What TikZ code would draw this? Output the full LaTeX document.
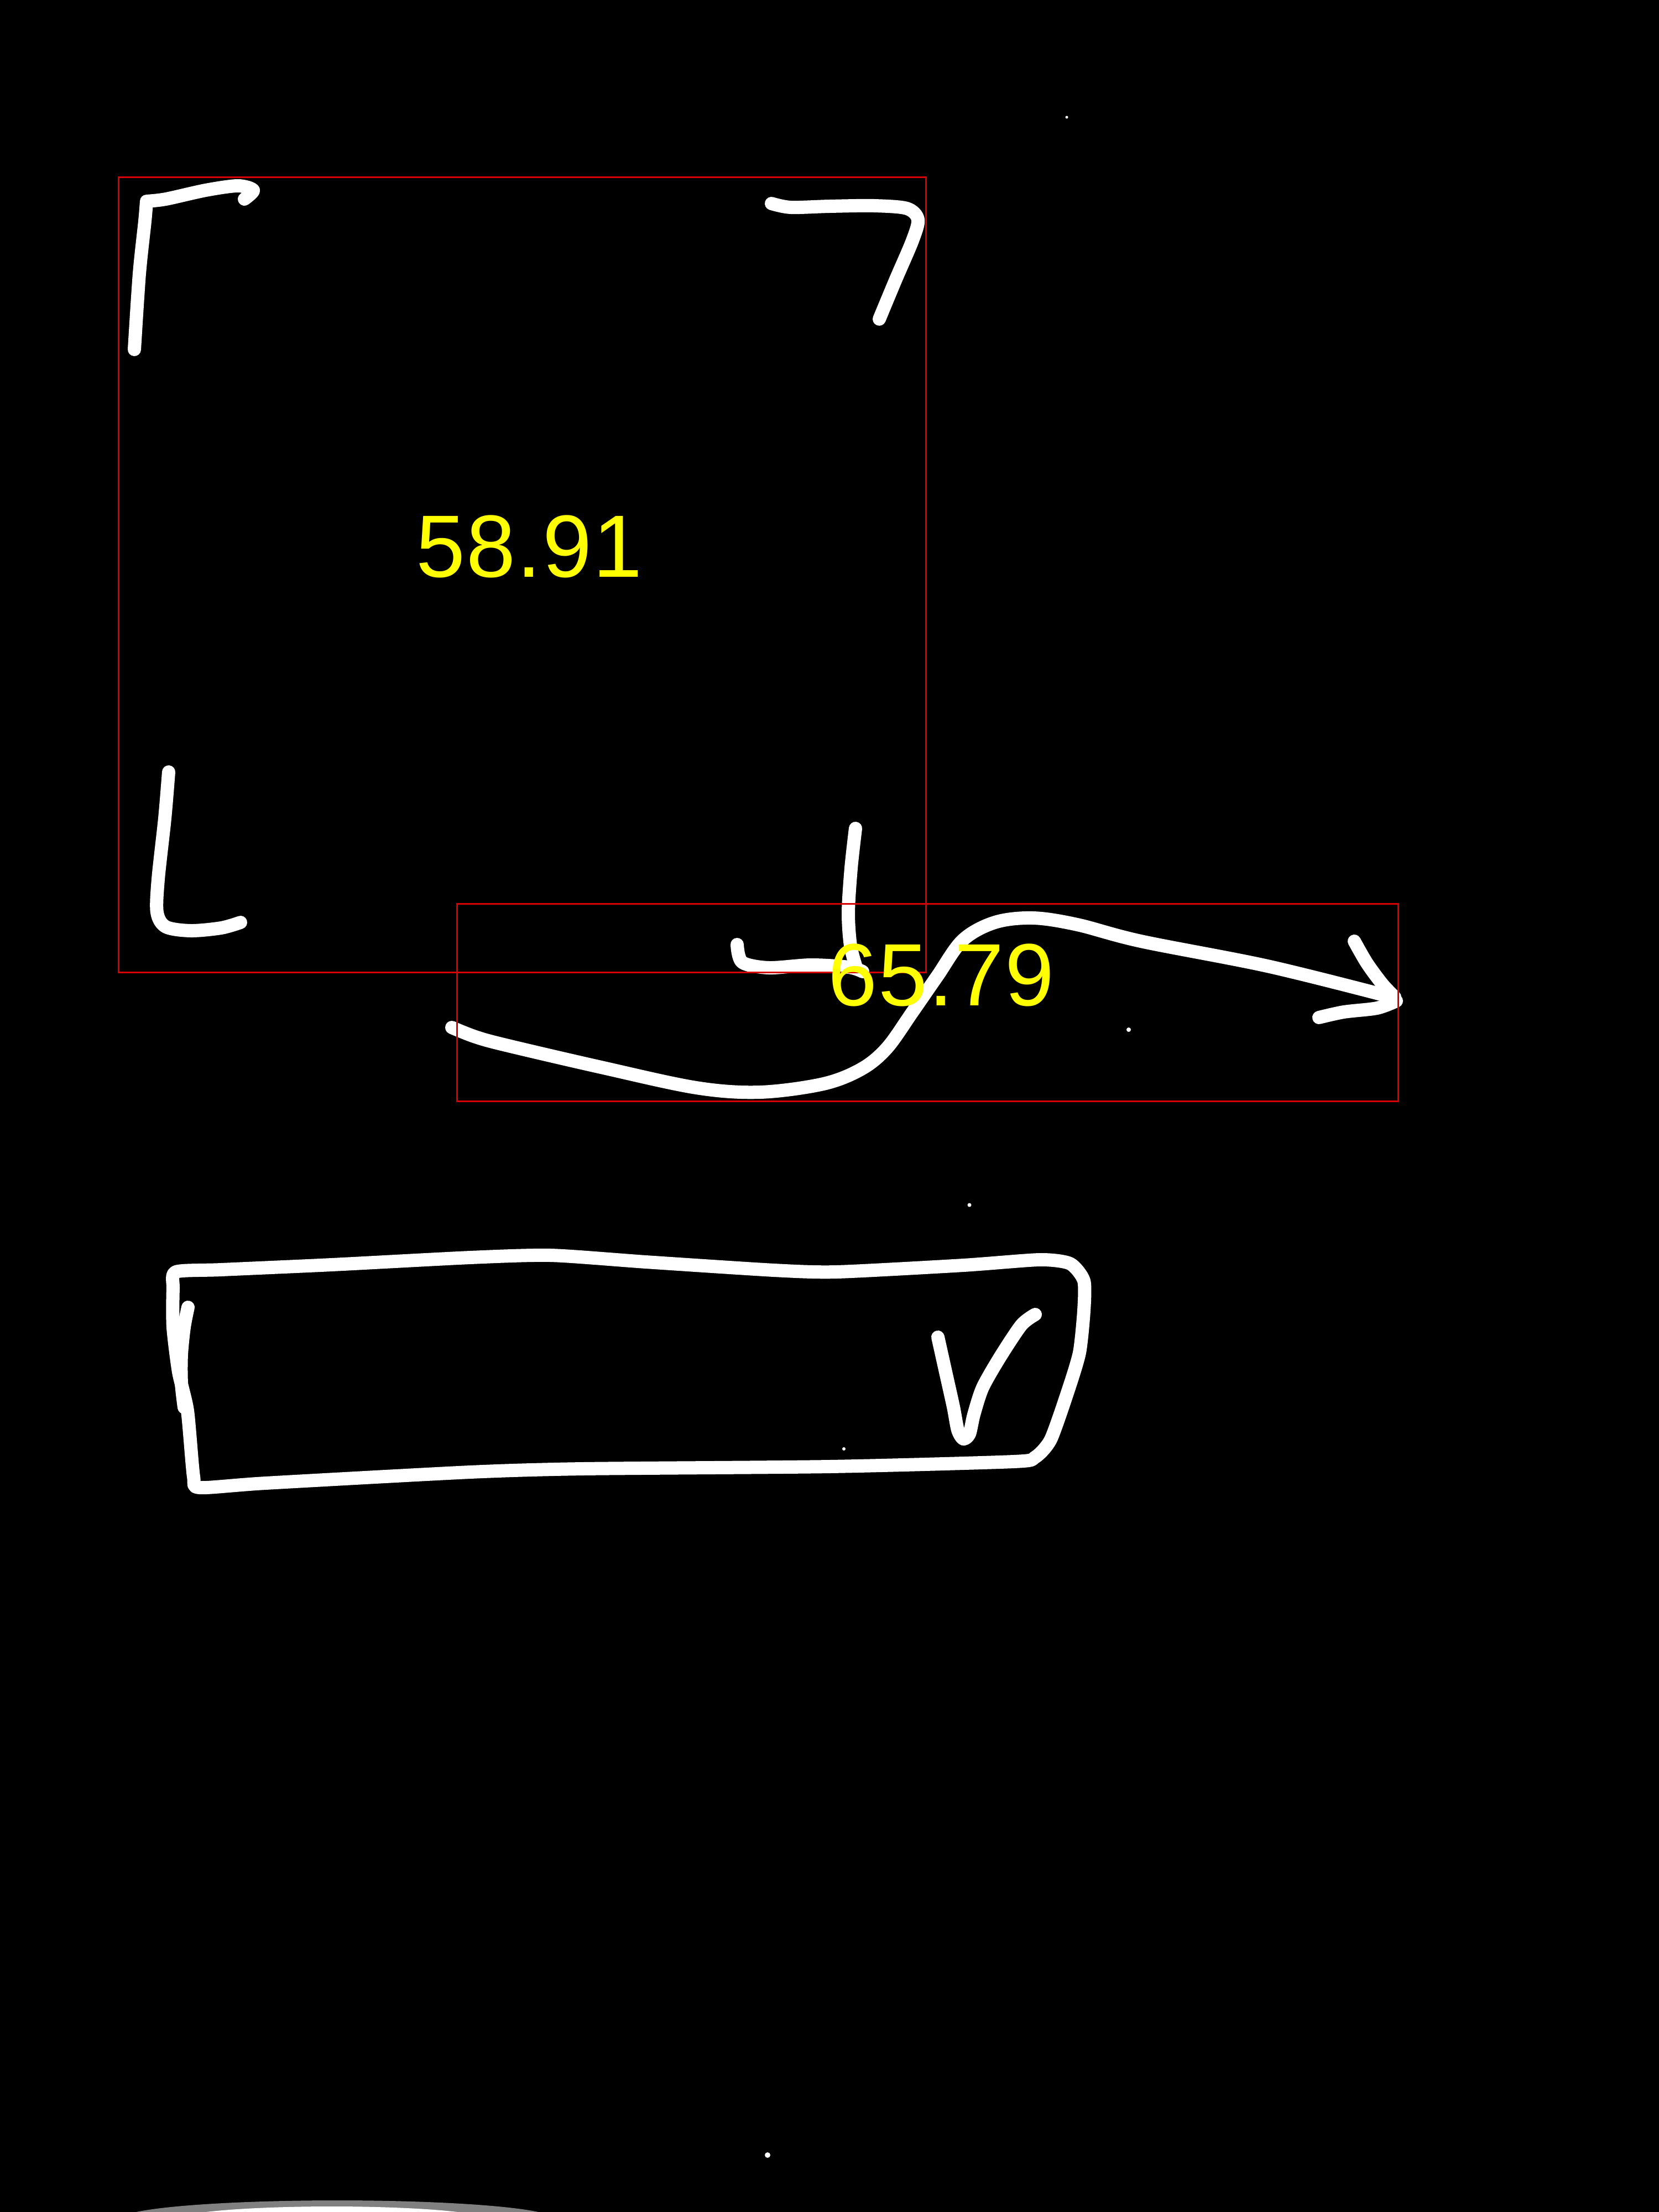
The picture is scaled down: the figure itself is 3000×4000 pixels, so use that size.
\documentclass[tikz,border=0pt]{standalone}
\usepackage{fontspec}
\setmainfont{Liberation Sans}
\begin{document}
\begin{tikzpicture}[x=0.01cm,y=-0.01cm,
  pen/.style={draw=white,line width=0.24cm,line cap=round,line join=round},
  annot/.style={draw={rgb,255:red,215;green,0;blue,0},line width=0.03cm},
  score/.style={text={rgb,255:red,255;green,255;blue,0},font=\fontsize{45.5}{50}\selectfont\addfontfeature{LetterSpace=1.5},inner sep=0pt,anchor=base}]
\fill[black] (0,0) rectangle (3000,4000);
\useasboundingbox (0,0) rectangle (3000,4000);
% corner brackets
\draw[pen] plot[smooth,tension=0.5] coordinates {(243,632) (252,495) (262,400) (265,364)}
  -- plot[smooth,tension=0.5] coordinates {(265,364) (300,360) (372,344) (430,336) (458,344) (442,360)};
\draw[pen] plot[smooth,tension=0.5] coordinates {(1395,368) (1430,375) (1500,373) (1580,372) (1640,377) (1660,397) (1650,435) (1620,505) (1590,577)};
\draw[pen] plot[smooth,tension=0.5] coordinates {(305,1396) (298,1480) (286,1590) (284,1650) (300,1676) (345,1683) (400,1678) (435,1668)};
\draw[pen] plot[smooth,tension=0.5] coordinates {(1547,1498) (1539,1570) (1534,1650) (1538,1710) (1549,1752)};
\draw[pen] plot[smooth,tension=0.5] coordinates {(1333,1708) (1342,1740) (1390,1750) (1466,1745) (1535,1749) (1560,1757)};
% S-shaped arrow
\draw[pen] plot[smooth,tension=0.55] coordinates {(817,1858) (860,1875) (915,1890) (1087,1930) (1259,1967) (1374,1975) (1489,1960) (1558,1933) (1604,1895) (1650,1830) (1695,1765) (1741,1700) (1799,1668) (1868,1660) (1948,1672) (2063,1702) (2292,1747) (2505,1800)};
\draw[pen] plot[smooth,tension=0.5] coordinates {(2449,1702) (2472,1742) (2500,1780) (2522,1803)};
\draw[pen] plot[smooth,tension=0.5] coordinates {(2385,1840) (2430,1830) (2490,1823) (2525,1810)};
% bottom rounded box with tick
\draw[pen] plot[smooth cycle,tension=0.4] coordinates {(318,2300) (400,2296) (600,2287) (850,2274) (996,2270) (1168,2282) (1400,2297) (1513,2300) (1742,2288) (1880,2278) (1935,2285) (1960,2316) (1960,2370) (1952,2446) (1931,2516) (1900,2603) (1872,2635) (1833,2643) (1500,2652) (1054,2656) (850,2662) (480,2682) (361,2690) (350,2670) (339,2551) (323,2481) (313,2400) (313,2330)};
\draw[pen] plot[smooth,tension=0.5] coordinates {(340,2364) (333,2400) (328,2450) (328,2500) (333,2545)};
\draw[pen] plot[smooth,tension=0.45] coordinates {(1696,2418) (1710,2481) (1724,2544) (1732,2586) (1742,2602) (1753,2593) (1761,2558) (1777,2509) (1809,2453) (1847,2396) (1872,2377)};
% specks
\fill[white] (1929,212) circle (0.025cm);
\fill[white] (2041,1862) circle (0.04cm);
\fill[white] (1753,2179) circle (0.035cm);
\fill[white] (1526,2620) circle (0.03cm);
\fill[white] (1388,3897) circle (0.05cm);
\fill[white,opacity=0.5] (610,4012) ellipse [x radius=3.9cm, y radius=0.33cm];
\fill[white] (600,4014) ellipse [x radius=2.8cm, y radius=0.24cm];
% annotation boxes
\draw[annot] (214,321) rectangle (1674,1758);
\draw[annot] (826,1634) rectangle (2528,1991);
\node[score] (s1) at (957,1043) {58.91};
\node[score] (s2) at (1702,1818) {65.79};
\end{tikzpicture}
\end{document}
